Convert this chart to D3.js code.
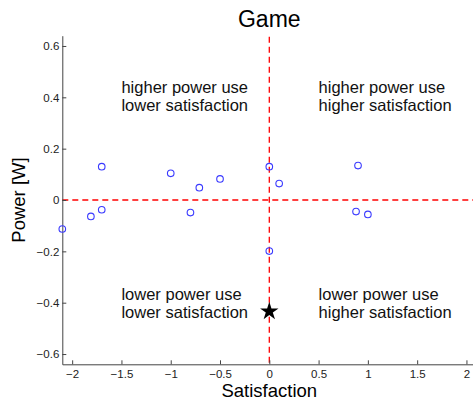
<!DOCTYPE html>
<html>
<head>
<meta charset="utf-8">
<script src="https://cdn.jsdelivr.net/npm/d3@7"></script>
<style>
  body { margin: 0; background: #fff; }
  svg { display: block; font-family: 'Liberation Sans', Arial, sans-serif; }
</style>
</head>
<body>
<div class="d3-content"></div>
<script>
// data
const satisfaction = [-1.70, -1.00, -0.71, -0.50, 0.00, 0.10, 0.90, -2.10, -1.81, -1.70, -0.80, 0.88, 1.00, 0.00];
const power        = [0.130, 0.104, 0.048, 0.082, 0.130, 0.064, 0.134, -0.113, -0.064, -0.038, -0.049, -0.045, -0.056, -0.199];
const starPoint = [0.0, -0.43];

const xTicks = [-2, -1.5, -1, -0.5, 0, 0.5, 1, 1.5, 2];
const xTickLabels = ['−2', '−1.5', '−1', '−0.5', '0', '0.5', '1', '1.5', '2'];
const yTicks = [-0.6, -0.4, -0.2, 0, 0.2, 0.4, 0.6];
const yTickLabels = ['−0.6', '−0.4', '−0.2', '0', '0.2', '0.4', '0.6'];

const quadrants = [
  { x: -1.5, y: 0.418, lines: ['higher power use', 'lower satisfaction'] },
  { x: 0.5, y: 0.418, lines: ['higher power use', 'higher satisfaction'] },
  { x: -1.5, y: -0.388, lines: ['lower power use', 'lower satisfaction'] },
  { x: 0.5, y: -0.388, lines: ['lower power use', 'higher satisfaction'] },
];

/************************/
/*      Dimensions      */
/************************/
const width = 473;
const height = 404;
const plot = { left: 62.3, right: 476.3, top: 35.7, bottom: 364.3 };

const axisColor = '#444';
const dotColor = '#3a3aff';
const refColor = '#ff0000';

const xScale = d3.scaleLinear().domain([-2.1, 2.1]).range([plot.left, plot.right]);
const yScale = d3.scaleLinear().domain([-0.64, 0.64]).range([plot.bottom, plot.top]);

const svg = d3.select('.d3-content')
  .append('svg')
    .attr('width', width)
    .attr('height', height);

// reference lines
svg.append('line')
  .attr('x1', xScale(0)).attr('x2', xScale(0))
  .attr('y1', plot.top + 1).attr('y2', plot.bottom)
  .attr('stroke', refColor)
  .attr('stroke-width', 1.3)
  .attr('stroke-dasharray', '6,4');
svg.append('line')
  .attr('x1', plot.left).attr('x2', plot.right)
  .attr('y1', yScale(0)).attr('y2', yScale(0))
  .attr('stroke', refColor)
  .attr('stroke-width', 1.3)
  .attr('stroke-dasharray', '6,4');

// axes
const bottomAxis = d3.axisBottom(xScale)
  .tickValues(xTicks)
  .tickFormat((d, i) => xTickLabels[i])
  .tickSizeInner(-4)
  .tickSizeOuter(0)
  .tickPadding(6);
const xAxisG = svg.append('g')
  .attr('transform', `translate(0, ${plot.bottom})`)
  .call(bottomAxis);

const leftAxis = d3.axisLeft(yScale)
  .tickValues(yTicks)
  .tickFormat((d, i) => yTickLabels[i])
  .tickSizeInner(-4)
  .tickSizeOuter(0)
  .tickPadding(3);
const yAxisG = svg.append('g')
  .attr('transform', `translate(${plot.left}, 0)`)
  .call(leftAxis);

[xAxisG, yAxisG].forEach(g => {
  g.selectAll('path, line').attr('stroke', axisColor);
  g.selectAll('text')
    .attr('fill', '#222')
    .style('font-size', '11.5px')
    .style('font-family', "'Liberation Sans', Arial, sans-serif");
});

// points
svg.append('g')
  .selectAll('circle')
  .data(satisfaction.map((s, i) => [s, power[i]]))
  .join('circle')
    .attr('cx', d => xScale(d[0]))
    .attr('cy', d => yScale(d[1]))
    .attr('r', 3.3)
    .attr('fill', 'none')
    .attr('stroke', dotColor)
    .attr('stroke-width', 1.1);

svg.append('path')
  .attr('d', d3.symbol(d3.symbolStar, 105)())
  .attr('transform', `translate(${xScale(starPoint[0])}, ${yScale(starPoint[1]) + 1})`)
  .attr('fill', '#000');

// quadrant labels
quadrants.forEach(q => {
  const t = svg.append('text')
    .attr('x', xScale(q.x))
    .attr('y', yScale(q.y))
    .attr('fill', '#111')
    .style('font-size', '16.5px');
  q.lines.forEach((line, i) => {
    t.append('tspan')
      .attr('x', xScale(q.x))
      .attr('dy', i === 0 ? 0 : 18.7)
      .text(line);
  });
});

// title and axis labels
svg.append('text')
  .text('Game')
  .attr('x', (plot.left + plot.right) / 2)
  .attr('y', 27)
  .attr('text-anchor', 'middle')
  .style('font-size', '23px');

svg.append('text')
  .text('Satisfaction')
  .attr('x', (plot.left + plot.right) / 2)
  .attr('y', 397)
  .attr('text-anchor', 'middle')
  .style('font-size', '18.5px');

svg.append('text')
  .text('Power [W]')
  .attr('transform', `translate(25, ${(plot.top + plot.bottom) / 2}) rotate(-90)`)
  .attr('text-anchor', 'middle')
  .style('font-size', '18.5px');
</script>
</body>
</html>
